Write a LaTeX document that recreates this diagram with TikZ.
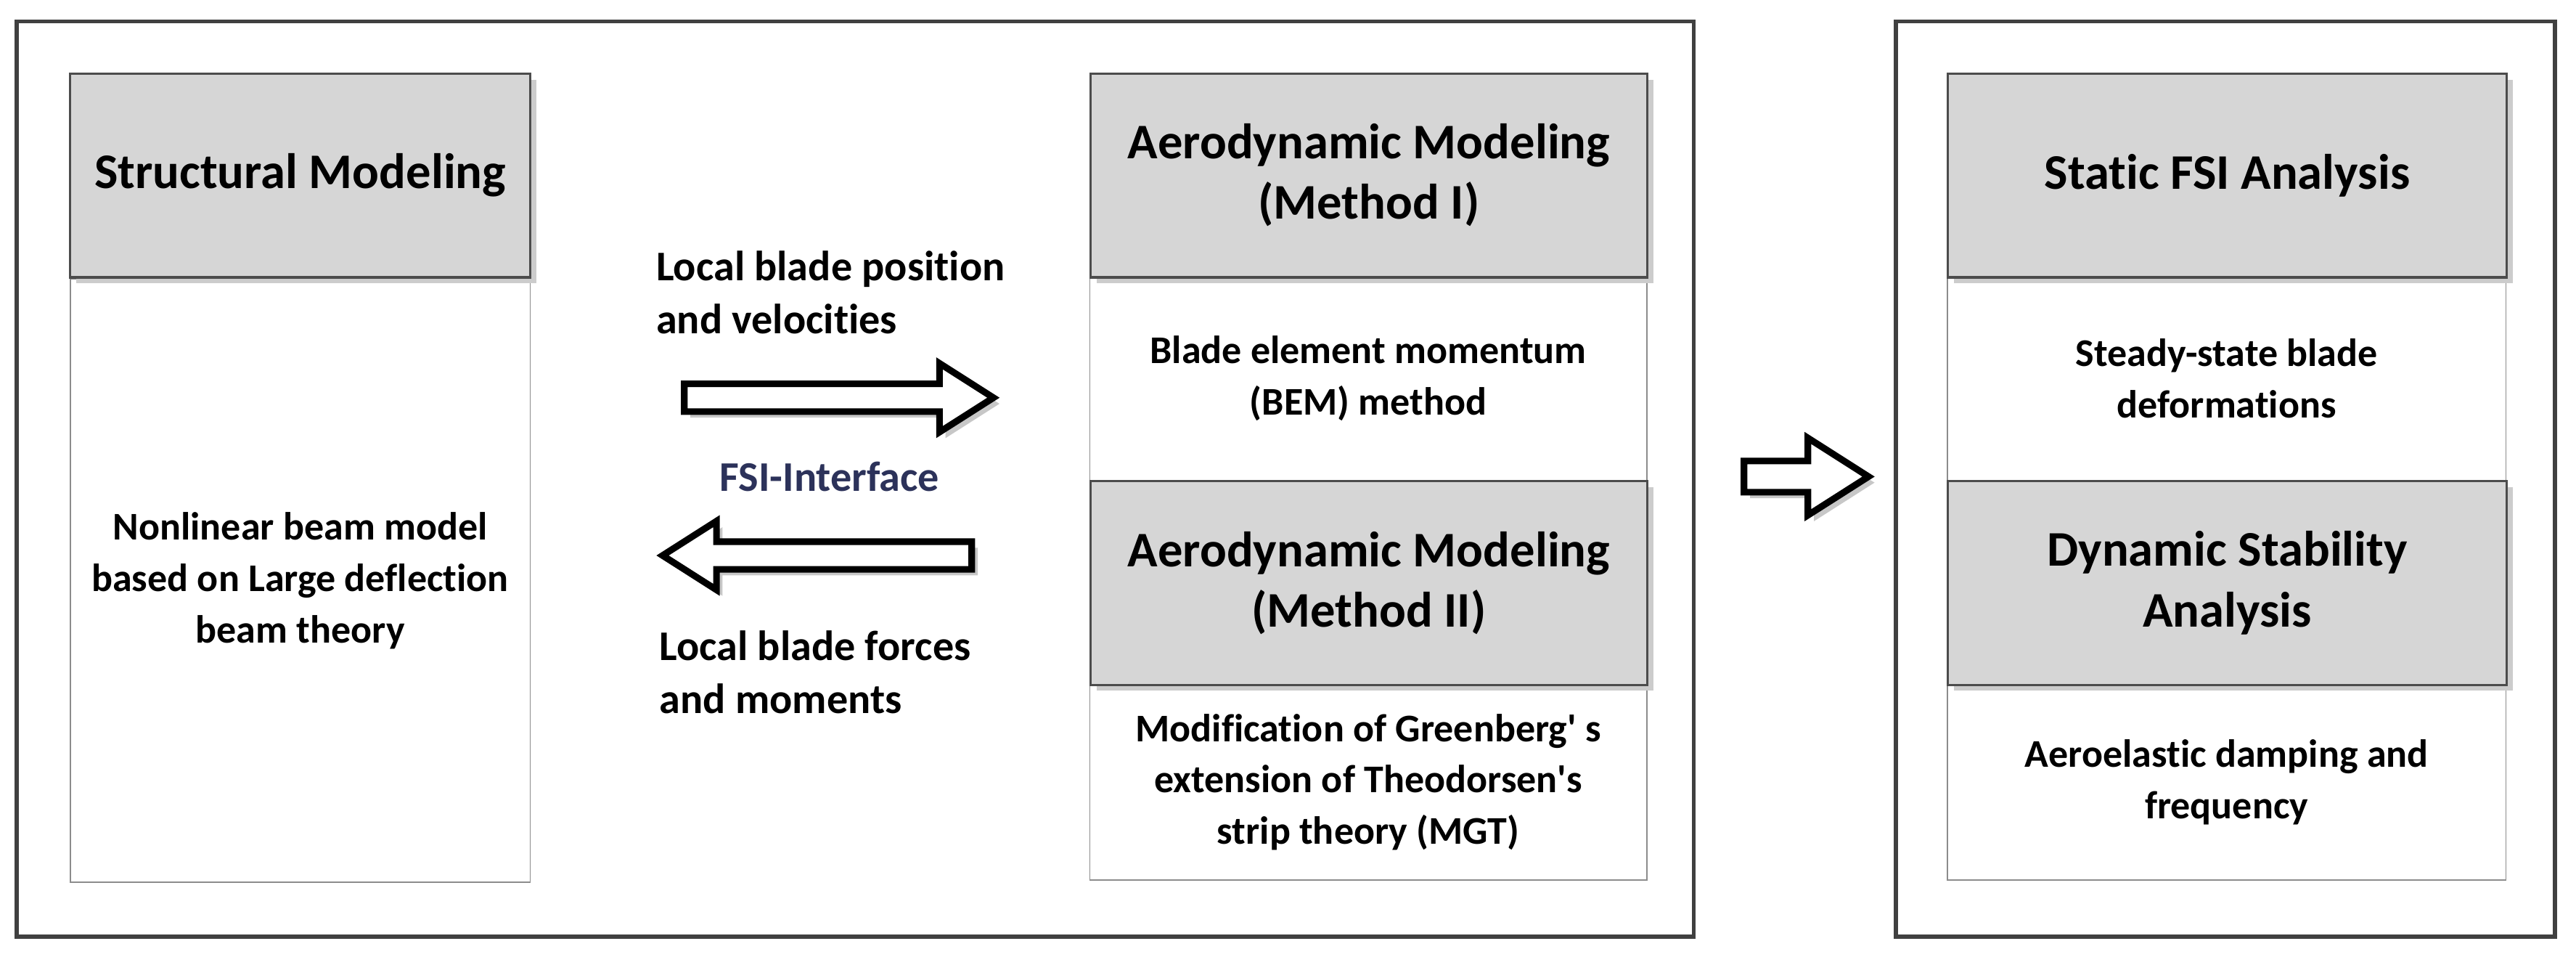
\documentclass[tikz,border=0pt]{standalone}
\usepackage{fontspec}
\setmainfont{Carlito}[Ligatures={NoCommon,NoContextual}]
\usetikzlibrary{positioning,shapes.arrows,shadows}

\begin{document}
\begin{tikzpicture}[x=0.019133cm,y=-0.019133cm,node distance=0cm,
    frame/.style={draw=black!75,line width=1.4pt},
    head box/.style={draw=black!70,fill=black!16,line width=0.8pt,align=center,
      font=\bfseries\fontsize{16.5}{20}\selectfont,inner sep=0pt,
      drop shadow={shadow xshift=2pt,shadow yshift=-2pt,fill=black!20,opacity=1}},
    body box/.style={draw=black!45,fill=white,line width=0.4pt,align=center,
      font=\bfseries\fontsize{13}{17}\selectfont,inner sep=0pt},
    label/.style={align=left,font=\bfseries\fontsize{14}{17.5}\selectfont},
    fat arrow/.style={single arrow,draw=black,fill=white,line width=2.2pt,
      inner sep=0.11cm,single arrow head extend=0.22cm,single arrow tip angle=65,
      drop shadow={shadow xshift=2pt,shadow yshift=-2pt,fill=black!22,opacity=1}}]
  \useasboundingbox (0,0) rectangle (1568,582.3);
  \draw[frame] (10,13) rectangle (1031,570);
  \draw[frame] (1154,13) rectangle (1555,570);
  % structural column
  \node[head box,minimum width=5.357cm,minimum height=2.372cm,anchor=north west]
    (struct) at (42,44) {Structural Modeling};
  \node[body box,minimum width=5.357cm,minimum height=7.022cm,below=of struct]
    (beam) {Nonlinear beam model\\based on Large deflection\\beam theory};
  \node[head box,minimum width=5.357cm,minimum height=2.372cm,anchor=north west]
    (struct) at (42,44) {Structural Modeling};
  % aerodynamic column
  \node[body box,minimum width=6.486cm,minimum height=2.372cm,anchor=north west]
    (bem) at (663,168) {Blade element momentum\\(BEM) method};
  \node[body box,minimum width=6.486cm,minimum height=2.277cm,anchor=north west]
    (mgt) at (663,416) {Modification of Greenberg\textquotesingle\ s\\extension of Theodorsen\textquotesingle s\\strip theory (MGT)};
  \node[head box,minimum width=6.486cm,minimum height=2.372cm,anchor=north west]
    (aero1) at (663,44) {Aerodynamic Modeling\\(Method I)};
  \node[head box,minimum width=6.486cm,minimum height=2.372cm,anchor=north west]
    (aero2) at (663,292) {Aerodynamic Modeling\\(Method II)};
  % analysis column
  \node[body box,minimum width=6.505cm,minimum height=2.372cm,anchor=north west]
    (steady) at (1185,168) {Steady-state blade\\deformations};
  \node[body box,minimum width=6.505cm,minimum height=2.277cm,anchor=north west]
    (damp) at (1185,416) {Aeroelastic damping and\\frequency};
  \node[head box,minimum width=6.505cm,minimum height=2.372cm,anchor=north west]
    (static) at (1185,44) {Static FSI Analysis};
  \node[head box,minimum width=6.505cm,minimum height=2.372cm,anchor=north west]
    (dyn) at (1185,292) {Dynamic Stability\\Analysis};
  % interface arrows
  \node[fat arrow,minimum height=3.6cm,minimum width=0.8cm] (toaero) at (504,242) {};
  \node[fat arrow,shape border rotate=180,minimum height=3.6cm,minimum width=0.8cm]
    (tostruct) at (504,338) {};
  \node[fat arrow,minimum height=1.45cm,minimum width=0.9cm] (toana) at (1092,290) {};
  \node[label,anchor=west] (pos) at (393,178) {Local blade position\\and velocities};
  \node[label,anchor=west] (force) at (395,409) {Local blade forces\\and moments};
  \node[font=\bfseries\fontsize{14}{16}\selectfont,text={rgb,255:red,44;green,50;blue,90}]
    (fsi) at (505,290) {FSI-Interface};
\end{tikzpicture}
\end{document}
